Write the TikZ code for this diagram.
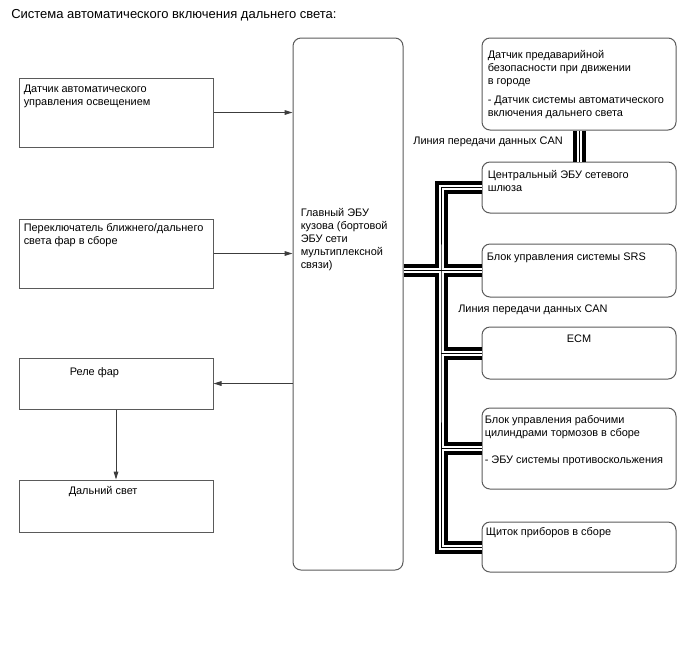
\documentclass[tikz,border=0pt]{standalone}
\usepackage{fontspec}
\setmainfont{Liberation Sans}
\usetikzlibrary{arrows.meta}
\definecolor{hlframe}{HTML}{5A5A5A}
\definecolor{hlwire}{HTML}{3C3C3C}

\begin{document}
\begin{tikzpicture}[x=0.75pt, y=-0.75pt,
  frame/.style={draw=hlframe, line width=0.75pt, inner sep=0pt},
  lbox/.style={frame, minimum width=145.5pt},
  rbox/.style={frame, minimum width=145.5pt, rounded corners=6pt},
  txt/.style={anchor=base west, inner sep=0pt, align=left, font=\fontsize{8.2pt}{9.75pt}\selectfont},
  wire/.style={draw=hlwire, line width=0.75pt, -{Triangle[length=6pt, width=3.5pt]}}]
  \useasboundingbox (0,0) rectangle (688,658);
  \node[anchor=base west, inner sep=0pt, font=\fontsize{9.75pt}{12pt}\selectfont] (title) at (11,18) {Система автоматического включения дальнего света:};
  % left column
  \node[lbox, minimum height=51.75pt] (sens) at (116,112.5) {};
  \node[lbox, minimum height=51.75pt] (sw) at (116,253.5) {};
  \node[lbox, minimum height=38.25pt] (relay) at (116,383.5) {};
  \node[lbox, minimum height=39pt] (beam) at (116,506) {};
  \node[txt] (sens-t) at ([shift={(5,28)}]sens.north west) {Датчик автоматического\\управления освещением};
  \node[txt] (sw-t) at ([shift={(5,26)}]sw.north west) {Переключатель ближнего/дальнего\\света фар в сборе};
  \node[txt] (relay-t) at ([shift={(51,18)}]relay.north west) {Реле фар};
  \node[txt] (beam-t) at ([shift={(50,15)}]beam.north west) {Дальний свет};
  % body ECU
  \node[rbox, minimum width=82.5pt, minimum height=399pt] (ecu) at (348,304) {};
  \node[txt] (ecu-t) at ([shift={(8,231)}]ecu.north west) {Главный ЭБУ\\кузова (бортовой\\ЭБУ сети\\мультиплексной\\связи)};
  % right column
  \node[rbox, minimum height=69pt] (pcs) at (579,84) {};
  \node[rbox, minimum height=38.25pt] (gw) at (579,187.5) {};
  \node[rbox, minimum height=39.75pt] (srs) at (579,270.5) {};
  \node[rbox, minimum height=39pt] (ecm) at (579,353) {};
  \node[rbox, minimum height=60.75pt] (brk) at (579,448.5) {};
  \node[rbox, minimum height=37.5pt] (ins) at (579,547) {};
  \node[txt] (pcs-t) at ([shift={(6,79)}]pcs.north west) {Датчик предаварийной\\безопасности при движении\\в городе\\[4.5pt]- Датчик системы автоматического\\включения дальнего света};
  \node[txt] (gw-t) at ([shift={(6,30)}]gw.north west) {Центральный ЭБУ сетевого\\шлюза};
  \node[txt] (srs-t) at ([shift={(5,17)}]srs.north west) {Блок управления системы SRS};
  \node[txt, anchor=base] (ecm-t) at ([yshift=-12pt]ecm.north) {ECM};
  \node[txt] (brk-t) at ([shift={(3,56)}]brk.north west) {Блок управления рабочими\\цилиндрами тормозов в сборе\\[10.5pt]- ЭБУ системы противоскольжения};
  \node[txt] (ins-t) at ([shift={(4,14)}]ins.north west) {Щиток приборов в сборе};
  \node[txt, anchor=base east] (can1) at (563,144) {Линия передачи данных CAN};
  \node[txt] (can2) at (458,312) {Линия передачи данных CAN};
  % signal wires
  \draw[wire] (sens.east) -- (sens.east -| ecu.west);
  \draw[wire] (sw.east) -- (sw.east -| ecu.west);
  \draw[wire] (ecu.west |- relay.east) -- (relay.east);
  \draw[wire] (relay.south) -- (beam.north);
  % CAN bus
  \coordinate (bus) at (441,300);
  \foreach \w/\c in {9.75pt/black, 3.75pt/white, 0.75pt/black}{
    \draw[line width=\w, draw=\c] (gw.west) -| (bus) |- (ins.west);
    \draw[line width=\w, draw=\c] (ecu.east |- srs.west) -- (srs.west);
    \draw[line width=\w, draw=\c] (ecm.west) -- (ecm.west -| bus);
    \draw[line width=\w, draw=\c] (brk.west) -- (brk.west -| bus);
    \draw[line width=\w, draw=\c] (pcs.south) -- (gw.north);
  }
\end{tikzpicture}
\end{document}
